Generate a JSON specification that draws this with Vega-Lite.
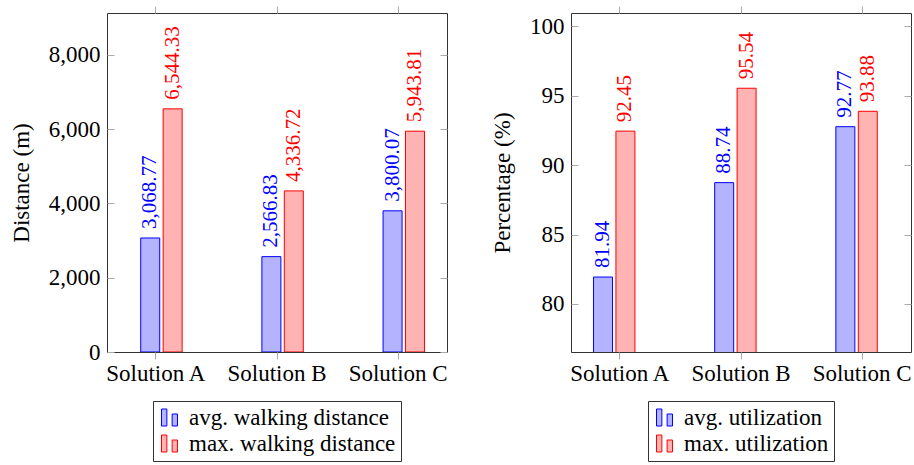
{
  "$schema": "https://vega.github.io/schema/vega-lite/v6.json",
  "padding": {"left": 9, "top": 5, "right": 2, "bottom": 0},
  "datasets": {
    "dist": [
      {"solution": "Solution A", "series": "avg. walking distance", "value": 3068.77},
      {"solution": "Solution A", "series": "max. walking distance", "value": 6544.33},
      {"solution": "Solution B", "series": "avg. walking distance", "value": 2566.83},
      {"solution": "Solution B", "series": "max. walking distance", "value": 4336.72},
      {"solution": "Solution C", "series": "avg. walking distance", "value": 3800.07},
      {"solution": "Solution C", "series": "max. walking distance", "value": 5943.81}
    ],
    "util": [
      {"solution": "Solution A", "series": "avg. utilization", "value": 81.94},
      {"solution": "Solution A", "series": "max. utilization", "value": 92.45},
      {"solution": "Solution B", "series": "avg. utilization", "value": 88.74},
      {"solution": "Solution B", "series": "max. utilization", "value": 95.54},
      {"solution": "Solution C", "series": "avg. utilization", "value": 92.77},
      {"solution": "Solution C", "series": "max. utilization", "value": 93.88}
    ]
  },
  "spacing": 43,
  "hconcat": [
    {
      "width": 340,
      "height": 339,
      "data": {"name": "dist"},
      "layer": [
        {
          "mark": {"type": "bar", "strokeWidth": 1, "clip": true, "width": 19},
          "encoding": {
            "x": {"field": "solution", "type": "nominal", "scale": {"type": "band", "paddingInner": 0.63, "paddingOuter": 0.218},
                  "axis": {"orient": "bottom", "title": null, "labelAngle": 0, "tickSize": 7, "labelPadding": 3}},
            "xOffset": {"field": "series", "type": "nominal", "scale": {"type": "band", "paddingInner": 0, "paddingOuter": 0}},
            "y": {"field": "value", "type": "quantitative", "scale": {"domain": [0, 9125], "nice": false, "zero": true},
                  "axis": {"orient": "left", "title": "Distance (m)", "values": [0, 2000, 4000, 6000, 8000], "format": ",d", "tickSize": -7, "labelPadding": 14, "titlePadding": 15}},
            "fill": {"field": "series", "type": "nominal", "scale": {"range": ["#b3b3ff", "#ffb3b3"]},
                     "legend": {"orient": "bottom", "direction": "vertical", "title": null}},
            "stroke": {"field": "series", "type": "nominal", "scale": {"range": ["#0000ff", "#ff0000"]},
                       "legend": {"orient": "bottom", "direction": "vertical", "title": null}}
          }
        },
        {
          "mark": {"type": "text", "angle": 270, "align": "left", "baseline": "middle", "dx": 9, "fontSize": 21},
          "encoding": {
            "x": {"field": "solution", "type": "nominal", "scale": {"type": "band", "paddingInner": 0.63, "paddingOuter": 0.218},
                  "axis": {"orient": "top", "title": null, "labels": false, "tickSize": 7}},
            "xOffset": {"field": "series", "type": "nominal", "scale": {"type": "band", "paddingInner": 0, "paddingOuter": 0}},
            "y": {"field": "value", "type": "quantitative", "scale": {"domain": [0, 9125], "nice": false},
                  "axis": {"orient": "right", "title": null, "labels": false, "values": [0, 2000, 4000, 6000, 8000], "tickSize": -7}},
            "text": {"field": "value", "type": "quantitative", "format": ",.2f"},
            "color": {"field": "series", "type": "nominal", "scale": {"range": ["#0000ff", "#ff0000"]}, "legend": null}
          }
        }
      ],
      "resolve": {"axis": {"x": "independent", "y": "independent"}}
    },
    {
      "width": 340,
      "height": 339,
      "data": {"name": "util"},
      "layer": [
        {
          "mark": {"type": "bar", "strokeWidth": 1, "clip": true, "width": 19},
          "encoding": {
            "x": {"field": "solution", "type": "nominal", "scale": {"type": "band", "paddingInner": 0.63, "paddingOuter": 0.218},
                  "axis": {"orient": "bottom", "title": null, "labelAngle": 0, "tickSize": 7, "labelPadding": 3}},
            "xOffset": {"field": "series", "type": "nominal", "scale": {"type": "band", "paddingInner": 0, "paddingOuter": 0}},
            "y": {"field": "value", "type": "quantitative", "scale": {"domain": [76.54, 100.96], "nice": false, "zero": false},
                  "axis": {"orient": "left", "title": "Percentage (%)", "values": [80, 85, 90, 95, 100], "tickSize": -7, "labelPadding": 14, "titlePadding": 15}},
            "fill": {"field": "series", "type": "nominal", "scale": {"range": ["#b3b3ff", "#ffb3b3"]},
                     "legend": {"orient": "bottom", "direction": "vertical", "title": null}},
            "stroke": {"field": "series", "type": "nominal", "scale": {"range": ["#0000ff", "#ff0000"]},
                       "legend": {"orient": "bottom", "direction": "vertical", "title": null}}
          }
        },
        {
          "mark": {"type": "text", "angle": 270, "align": "left", "baseline": "middle", "dx": 9, "fontSize": 21},
          "encoding": {
            "x": {"field": "solution", "type": "nominal", "scale": {"type": "band", "paddingInner": 0.63, "paddingOuter": 0.218},
                  "axis": {"orient": "top", "title": null, "labels": false, "tickSize": 7}},
            "xOffset": {"field": "series", "type": "nominal", "scale": {"type": "band", "paddingInner": 0, "paddingOuter": 0}},
            "y": {"field": "value", "type": "quantitative", "scale": {"domain": [76.54, 100.96], "nice": false, "zero": false},
                  "axis": {"orient": "right", "title": null, "labels": false, "values": [80, 85, 90, 95, 100], "tickSize": -7}},
            "text": {"field": "value", "type": "quantitative", "format": ".2f"},
            "color": {"field": "series", "type": "nominal", "scale": {"range": ["#0000ff", "#ff0000"]}, "legend": null}
          }
        }
      ],
      "resolve": {"axis": {"x": "independent", "y": "independent"}}
    }
  ],
  "resolve": {
    "scale": {"fill": "independent", "stroke": "independent", "color": "independent"},
    "legend": {"fill": "independent", "stroke": "independent"}
  },
  "config": {
    "font": "Liberation Serif",
    "view": {"stroke": "#333", "strokeWidth": 1},
    "axis": {
      "domain": false,
      "grid": false,
      "tickColor": "#aaaaaa",
      "tickWidth": 1,
      "labelFont": "Liberation Serif",
      "labelFontSize": 23,
      "labelColor": "#000000",
      "titleFont": "Liberation Serif",
      "titleFontSize": 23,
      "titleFontWeight": "normal",
      "titleColor": "#000000"
    },
    "legend": {
      "layout": {"bottom": {"anchor": "middle"}},
      "labelFont": "Liberation Serif",
      "labelFontSize": 23,
      "labelColor": "#000000",
      "labelLimit": 400,
      "symbolType": "M-0.94,-1H-0.31V1H-0.94Z M0.31,-0.41H0.94V1H0.31Z",
      "symbolSize": 289,
      "symbolStrokeWidth": 1,
      "symbolOpacity": 1,
      "strokeColor": "#333333",
      "padding": 5,
      "rowPadding": 2,
      "labelOffset": 8,
      "offset": 16
    }
  }
}
